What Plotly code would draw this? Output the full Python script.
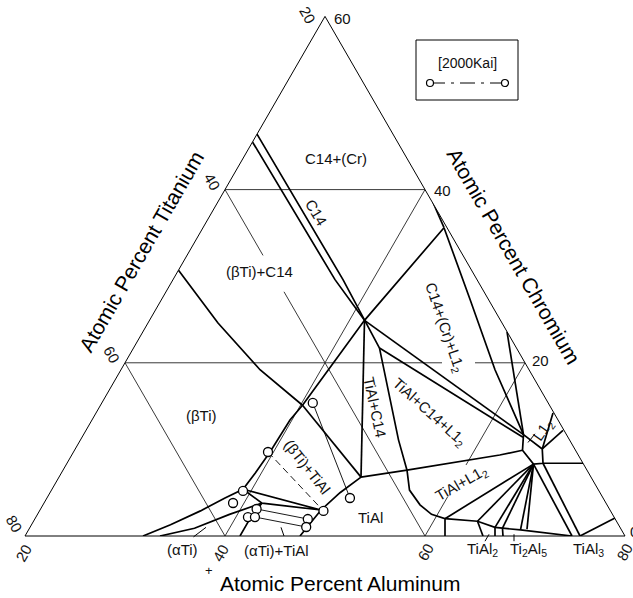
import math
import plotly.graph_objects as go

# ---------------------------------------------------------------------------
# Ti-Al-Cr isothermal section, 20-80 at.% Al window.
# Every boundary is a list of (Al, Cr) vertices in at.%; Ti is the balance.
# ---------------------------------------------------------------------------
C14_FIELD_LEFT = [(20.0, 45.5), (36.2, 29.6), (41.5, 24.9)]
C14_FIELD_RIGHT = [(20.0, 46.4), (37.0, 29.6), (44.6, 21.7)]
BETA_VS_BETA_C14 = [(20.0, 30.7), (27.0, 24.6), (33.9, 19.2), (40.2, 15.1)]
BCC_C14_TIE = [(40.2, 15.1), (41.5, 24.9), (44.1, 35.6)]
CR_VS_C14_CR = [(41.6, 38.45), (44.1, 35.6)]
BETA_TIAL_TIE = [(40.2, 15.1), (50.2, 6.8)]
C14_TIAL_LEFT = [(41.5, 24.9), (50.2, 6.8)]
C14_TIAL_RIGHT = [(44.6, 21.7), (51.8, 11.1), (54.4, 7.6)]
TIAL_C14_BASE = [(50.2, 6.8), (54.4, 7.6)]
TIAL_VS_TIAL_L12 = [(54.4, 7.6), (62.8, 9.35), (64.8, 9.9)]
C14_L12_LOWER = [(44.6, 21.7), (64.1, 11.4)]
C14_L12_UPPER = [(41.5, 24.9), (64.0, 11.7)]
CR_VS_CR_L12 = [(44.1, 35.6), (50.9, 27.25), (57.4, 19.2), (64.0, 11.7)]
CR_EDGE_L12 = [(56.4, 23.6), (64.0, 11.7)]
L12_FIELD = [(64.0, 11.7), (66.7, 10.05), (67.6, 8.4), (66.7, 8.3),
             (64.8, 9.9), (64.0, 11.7)]
L12_TO_EDGE_A = [(66.7, 10.05), (65.7, 14.2)]
L12_TO_EDGE_B = [(66.7, 10.05), (67.7, 12.2)]
L12_TO_EDGE_C = [(67.6, 8.4), (71.6, 8.4)]
TIAL3_LEFT = [(66.7, 8.3), (74.7, 0.0)]
TIAL3_RIGHT = [(67.6, 8.4), (75.5, 0.0)]
TIAL3_EDGE = [(75.5, 0.0), (78.0, 2.1)]
L12_FAN_HUB = (66.7, 8.3)
L12_FAN_ENDS = [(61.0, 2.0), (64.4, 1.7), (66.5, 1.0), (67.3, 0.9),
                (69.2, 0.7), (69.8, 0.8)]
AL_RICH_BASE = [(61.0, 2.0), (64.4, 1.7), (66.5, 1.0), (67.3, 0.9),
                (69.2, 0.7), (74.7, 0.0)]
AL_RICH_STEPS = [[(64.4, 1.7), (65.8, 0.0)], [(66.5, 1.0), (67.0, 0.0)],
                 [(67.3, 0.9), (67.8, 0.0)]]

BETA_BOUNDARY = [(40.2, 15.1), (39.8, 13.4), (39.65, 9.7), (39.4, 7.3),
                 (39.1, 5.4), (37.8, 4.4), (36.1, 2.9), (33.9, 1.3),
                 (31.8, 0.0)]
ALPHA_BOUNDARY = [(33.5, 0.0), (36.5, 0.9), (39.2, 2.5), (41.8, 3.8)]
ALPHA_VS_ALPHA_TIAL = [(41.8, 3.8), (41.5, 2.0), (41.5, 0.0)]
ALPHA_BETA_TIAL = [(39.1, 5.4), (48.1, 3.0), (41.8, 3.8), (39.1, 5.4)]
TIAL_LEFT = [(47.5, 0.0), (48.1, 3.0), (49.0, 5.0), (50.2, 6.8)]
TIAL_RIGHT = [(54.4, 7.6), (55.8, 5.3), (57.7, 3.6), (59.4, 2.5),
              (61.0, 2.0), (62.0, 0.0)]

# measured alloy compositions [2000Kai]
ALLOY_AL = [41.1, 39.45, 39.2, 38.9, 41.6, 41.2, 41.9, 47.3, 47.6, 48.4, 50.3]
ALLOY_CR = [15.36, 9.7, 5.2, 3.81, 3.12, 2.19, 2.19, 1.96, 1.04, 2.89, 4.39]
TIE_SOLID = [[(41.1, 15.36), (50.3, 4.39)], [(41.6, 3.12), (47.3, 1.96)],
             [(41.9, 2.19), (47.6, 1.04)]]
TIE_DASHED = [[(39.45, 9.7), (48.4, 2.89)]]

# reference grid (at.%), broken where a field label sits on it
GRID_LINES = [
    [(20, 40), (40, 40)],                               # Cr = 40
    [(20, 20), (51.7, 20)], [(55.0, 20), (60, 20)],     # Cr = 20
    [(20, 20), (40, 0)],                                # Ti = 60
    [(20, 40), (27.6, 32.4)], [(31.8, 28.2), (60, 0)],  # Ti = 40
    [(40, 0), (40, 40)],                                # Al = 40
    [(60, 0), (60, 4.5)], [(60, 8.2), (60, 20)],        # Al = 60
]

# phase-field labels: text, Al, Cr, angle
PHASE_LABELS = [
    ("C14+(Cr)", 29.3, 43.6, 0),
    ("C14", 30.45, 37.3, 59),
    ("(βTi)+C14", 28.2, 30.5, 0),
    ("(βTi)", 30.7, 13.9, 0),
    ("(αTi)", 36.5, -1.6, 0),
    ("(αTi)+TiAl", 46.0, -1.7, 0),
    ("TiAl", 53.5, 2.1, 0),
    ("(βTi)+TiAl", 44.2, 8.0, 52),
    ("TiAl+C14", 47.5, 14.9, 78),
    ("TiAl+C14+L1<sub>2</sub>", 53.3, 14.3, 42),
    ("C14+(Cr)+L1<sub>2</sub>", 49.9, 24.1, 71),
    ("TiAl+L1<sub>2</sub>", 60.6, 6.1, -30),
    ("L1<sub>2</sub>", 65.7, 12.2, -55),
    ("TiAl<sub>2</sub>", 66.6, -1.6, 0),
    ("Ti<sub>2</sub>Al<sub>5</sub>", 71.1, -1.6, 0),
    ("TiAl<sub>3</sub>", 77.1, -1.6, 0),
]
LEADERS = [
    [(36.9, -0.1), (37.6, 1.0)],
    [(45.9, 0.0), (45.1, 1.0)],
    [(66.3, -0.6), (66.3, 0.2)],
    [(69.2, -0.6), (68.8, 0.2)],
    [(64.9, 10.8), (65.1, 11.8)],
]

AL_TICKS = ["20", "40", "60", "80"]
TI_TICKS = ["80", "60", "40", "20"]
CR_TICKS = ["0", "20", "40", "60"]

# ---------------------------------------------------------------------------
W, H = 633, 598
BASE_L, BASE_R, BASE_Y = 25.0, 625.0, 536.0
SIDE = BASE_R - BASE_L
SCALE = SIDE / 60.0
FONT = "Liberation Sans, Arial, sans-serif"


def to_paper(al, cr):
    x = BASE_L + SCALE * (al - 20) + SCALE * cr / 2
    y = BASE_Y - SCALE * cr * math.sqrt(3) / 2
    return x / W, 1 - y / H


def px(x, y):
    return x / W, 1 - y / H


def tern_trace(segments, width=1.7, dash="solid", color="black"):
    a, b, c = [], [], []
    for seg in segments:
        for al, cr in seg:
            a.append(cr)
            b.append(100 - al - cr)
            c.append(al)
        a.append(None); b.append(None); c.append(None)
    return go.Scatterternary(a=a, b=b, c=c, mode="lines", hoverinfo="skip",
                             line=dict(color=color, width=width, dash=dash))


def note(x, y, text, size, angle=0, xanchor="center", color="#111"):
    return dict(x=x, y=y, xref="paper", yref="paper", text=text,
                textangle=angle, showarrow=False, xanchor=xanchor,
                yanchor="middle", font=dict(family=FONT, size=size, color=color))


fig = go.Figure()

fig.add_trace(tern_trace(GRID_LINES, width=0.9, color="#222"))
fig.add_trace(tern_trace(TIE_SOLID, width=0.9))
fig.add_trace(tern_trace(TIE_DASHED, width=0.9, dash="7px,4px"))

boundaries = [
    C14_FIELD_LEFT, C14_FIELD_RIGHT, BETA_VS_BETA_C14, BCC_C14_TIE,
    CR_VS_C14_CR, BETA_TIAL_TIE, C14_TIAL_LEFT, C14_TIAL_RIGHT,
    TIAL_C14_BASE, TIAL_VS_TIAL_L12, C14_L12_LOWER, C14_L12_UPPER,
    CR_VS_CR_L12, CR_EDGE_L12, L12_FIELD, L12_TO_EDGE_A, L12_TO_EDGE_B,
    L12_TO_EDGE_C, TIAL3_LEFT, TIAL3_RIGHT, TIAL3_EDGE, AL_RICH_BASE,
    BETA_BOUNDARY, ALPHA_BOUNDARY, ALPHA_VS_ALPHA_TIAL, ALPHA_BETA_TIAL,
    TIAL_LEFT, TIAL_RIGHT,
] + AL_RICH_STEPS + [[L12_FAN_HUB, end] for end in L12_FAN_ENDS]
fig.add_trace(tern_trace(boundaries, width=1.7))

fig.add_trace(go.Scatterternary(
    a=ALLOY_CR, b=[100 - al - cr for al, cr in zip(ALLOY_AL, ALLOY_CR)],
    c=ALLOY_AL, mode="markers", hoverinfo="skip",
    marker=dict(symbol="circle", size=9, color="white",
                line=dict(color="black", width=1.3))))

annotations = []
for text, al, cr, ang in PHASE_LABELS:
    x, y = to_paper(al, cr)
    annotations.append(note(x, y, text, 15, ang))

shapes = []
for (al0, cr0), (al1, cr1) in LEADERS:
    x0, y0 = to_paper(al0, cr0)
    x1, y1 = to_paper(al1, cr1)
    shapes.append(dict(type="line", xref="paper", yref="paper", x0=x0, y0=y0,
                       x1=x1, y1=y1, line=dict(color="black", width=1)))

# tick labels placed beside the grid end points
for lab, (x, y) in zip(AL_TICKS, [(23, 553), (220, 553), (425, 552), (624, 552)]):
    annotations.append(note(*px(x, y), lab, 15, -60))
for lab, (x, y) in zip(TI_TICKS, [(15, 524), (112, 354), (213, 182), (307, 15)]):
    annotations.append(note(*px(x, y), lab, 15, 60))
for lab, (x, y) in zip(CR_TICKS, [(628, 531), (530, 360), (432, 190), (332, 19)]):
    annotations.append(note(*px(x, y), lab, 15, 0, xanchor="left"))

for text, (x, y), ang in [("Atomic Percent Aluminum", (340, 583), 0),
                          ("Atomic Percent Titanium", (141, 251), -60),
                          ("Atomic Percent Chromium", (513, 256), 60)]:
    annotations.append(note(*px(x, y), text, 21, ang, color="black"))

annotations.append(note(*px(209, 570), "+", 13))

# source key
bx0, by0 = px(416, 40)
bx1, by1 = px(518, 100)
shapes.append(dict(type="rect", xref="paper", yref="paper", x0=bx0, y0=by0,
                   x1=bx1, y1=by1, line=dict(color="black", width=1)))
annotations.append(note(*px(467, 63), "[2000Kai]", 14))
lx0, ly = px(430, 83)
lx1, _ = px(505, 83)
shapes.append(dict(type="line", xref="paper", yref="paper", x0=lx0, y0=ly,
                   x1=lx1, y1=ly, line=dict(color="black", width=1,
                                           dash="longdashdot")))
r = 3.5
for cx in (430, 505):
    c0x, c0y = px(cx - r, 83 - r)
    c1x, c1y = px(cx + r, 83 + r)
    shapes.append(dict(type="circle", xref="paper", yref="paper", x0=c0x,
                       y0=c0y, x1=c1x, y1=c1y, fillcolor="white",
                       line=dict(color="black", width=1.2)))

axis_common = dict(showticklabels=False, ticks="", showgrid=False,
                   showline=True, linecolor="black", linewidth=1,
                   title=dict(text=""))
apex_y = BASE_Y - SIDE * math.sqrt(3) / 2
fig.update_layout(
    width=W, height=H, margin=dict(l=0, r=0, t=0, b=0),
    paper_bgcolor="white", showlegend=False,
    ternary=dict(
        sum=100, bgcolor="white",
        domain=dict(x=[BASE_L / W, BASE_R / W], y=[1 - BASE_Y / H, 1 - apex_y / H]),
        aaxis=dict(min=0, **axis_common),
        baxis=dict(min=20, **axis_common),
        caxis=dict(min=20, **axis_common),
    ),
    annotations=annotations, shapes=shapes,
)

fig.write_html("out.html")
